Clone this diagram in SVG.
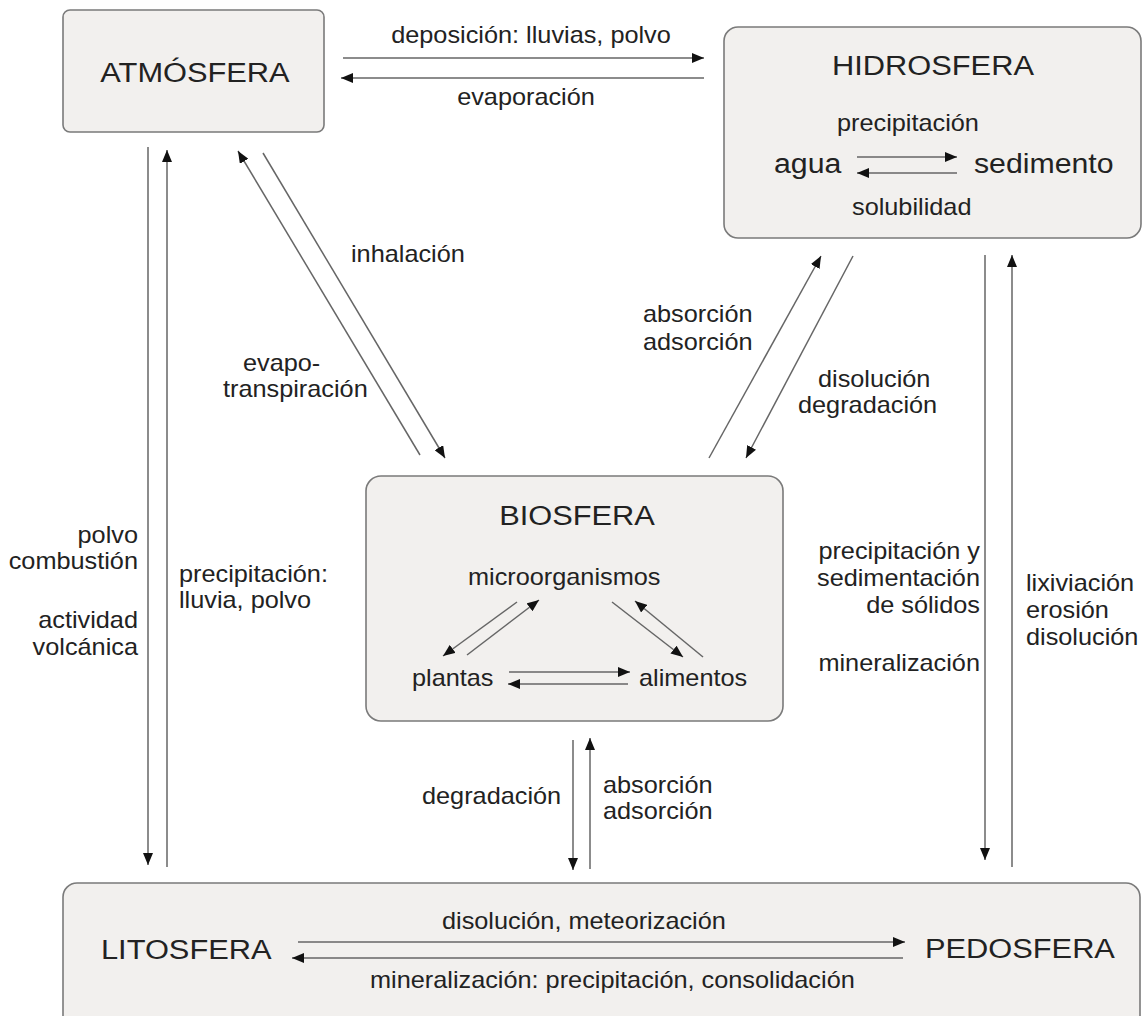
<svg xmlns="http://www.w3.org/2000/svg" width="1146" height="1016" viewBox="0 0 1146 1016">
<style>
.box{fill:#f2f0ee;stroke:#7a7a7a;stroke-width:1.6}
text{font-family:"Liberation Sans",Arial,sans-serif;fill:#222}
.s{transform:scale(1.1,1)}
.t{font-size:28px}
.l{font-size:23px}
.b{font-size:27.5px}
.m{text-anchor:middle}
.e{text-anchor:end}
.c{fill:none;stroke:#666;stroke-width:1.5;marker-end:url(#ah)}
</style>
<defs>
<marker id="ah" markerUnits="userSpaceOnUse" markerWidth="13" markerHeight="10" refX="12" refY="5" orient="auto" viewBox="0 0 13 10">
<path d="M0,0 L12,5 L0,10 z" fill="#111"/>
</marker>
</defs>
<rect width="1146" height="1016" fill="#fff"/>
<g id="atmosfera">
<rect class="box" x="63" y="10" width="261" height="122" rx="7"/>
<text class="s t m" x="177.27" y="82">ATMÓSFERA</text>
</g>
<g id="hidrosfera">
<rect class="box" x="724" y="27" width="417" height="211" rx="14"/>
<text class="s t m" x="848.18" y="75">HIDROSFERA</text>
<text class="s l" x="760.91" y="131">precipitación</text>
<text class="s b" x="703.64" y="173">agua</text>
<text class="s b" x="885.45" y="173">sedimento</text>
<text class="s l" x="774.55" y="215">solubilidad</text>
<path class="c" d="M857,157 H957"/>
<path class="c" d="M957,173 H857"/>
</g>
<g id="biosfera">
<rect class="box" x="366" y="476" width="417" height="245" rx="15"/>
<text class="s t m" x="524.55" y="525">BIOSFERA</text>
<text class="s l" x="425.45" y="585">microorganismos</text>
<text class="s l" x="374.55" y="686">plantas</text>
<text class="s l" x="580.91" y="686">alimentos</text>
<path class="c" d="M509,672 H630"/>
<path class="c" d="M628,684 H508"/>
<path class="c" d="M517,602 L443,656"/>
<path class="c" d="M467,655 L539,600"/>
<path class="c" d="M612,602 L683,657"/>
<path class="c" d="M703,657 L635,601"/>
</g>
<g id="litosfera-pedosfera">
<rect class="box" x="63" y="883" width="1077" height="150" rx="14"/>
<text class="s t" x="91.82" y="959">LITOSFERA</text>
<text class="s t" x="840.91" y="958">PEDOSFERA</text>
<text class="s l" x="401.82" y="929">disolución, meteorización</text>
<text class="s l" x="336.36" y="988">mineralización: precipitación, consolidación</text>
<path class="c" d="M298,942 H905"/>
<path class="c" d="M903,958 H292"/>
</g>
<g id="connectors">
<path class="c" d="M343,58 H704"/>
<path class="c" d="M704,78 H341"/>
<path class="c" d="M148,147 V865"/>
<path class="c" d="M167,867 V150"/>
<path class="c" d="M420,455 L238,151"/>
<path class="c" d="M263,153 L445,458"/>
<path class="c" d="M709,458 L821,256"/>
<path class="c" d="M853,256 L746,458"/>
<path class="c" d="M985,255 V860"/>
<path class="c" d="M1012,867 V255"/>
<path class="c" d="M573,740 V870"/>
<path class="c" d="M590,869 V738"/>
</g>
<g id="labels">
<text class="s l m" x="482.73" y="43">deposición: lluvias, polvo</text>
<text class="s l m" x="478.18" y="105">evaporación</text>
<text class="s l" x="319.09" y="262">inhalación</text>
<text class="s l" x="220.91" y="371">evapo-</text>
<text class="s l" x="202.73" y="397">transpiración</text>
<text class="s l" x="584.55" y="322">absorción</text>
<text class="s l" x="584.55" y="350">adsorción</text>
<text class="s l" x="743.64" y="387">disolución</text>
<text class="s l" x="725.45" y="413">degradación</text>
<text class="s l e" x="125.45" y="543">polvo</text>
<text class="s l e" x="125.45" y="569">combustión</text>
<text class="s l e" x="125.45" y="628">actividad</text>
<text class="s l e" x="125.45" y="655">volcánica</text>
<text class="s l" x="162.73" y="582">precipitación:</text>
<text class="s l" x="162.73" y="608">lluvia, polvo</text>
<text class="s l e" x="890.91" y="559">precipitación y</text>
<text class="s l e" x="890.91" y="586">sedimentación</text>
<text class="s l e" x="890.91" y="613">de sólidos</text>
<text class="s l e" x="890.91" y="671">mineralización</text>
<text class="s l" x="932.73" y="591">lixiviación</text>
<text class="s l" x="932.73" y="618">erosión</text>
<text class="s l" x="932.73" y="645">disolución</text>
<text class="s l" x="383.64" y="804">degradación</text>
<text class="s l" x="548.18" y="793">absorción</text>
<text class="s l" x="548.18" y="819">adsorción</text>
</g>
</svg>
